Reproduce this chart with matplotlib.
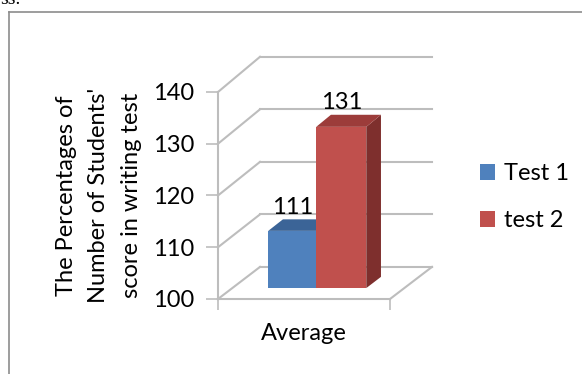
import matplotlib
matplotlib.use("Agg")
import matplotlib.pyplot as plt
from matplotlib.patches import Polygon, Patch
from matplotlib.lines import Line2D

# data
series = ["Test 1", "test 2"]
values = [111, 131]
category = "Average"
yticks = [100, 110, 120, 130, 140]
ylabel = "The Percentages of\nNumber of Students'\nscore in writing test"

FRONT = ["#4F81BD", "#C0504D"]
TOP   = ["#3B6497", "#9C3C3A"]
SIDE  = ["#2F507A", "#7E2F2D"]
GRID  = "#BDBDBD"

plt.rcParams["font.family"] = ["Lato", "DejaVu Sans"]
FS = 17

W, H = 582, 374
fig = plt.figure(figsize=(W / 100, H / 100), dpi=100)

# front plane of the 3-D box: x 0..1, values 100..140
ax = fig.add_axes([218 / W, (H - 299) / H, 172 / W, 207 / H])
ax.set_xlim(0, 1)
ax.set_ylim(100, 140)

# depth offsets (one unit of depth)
DX = 42 / 172
def dv(v):
    return 6.2 + (v - 100) * 0.015

def proj(x, v, d):
    return (x + d * DX, v + d * dv(v))

# walls: left wall diagonals + back wall gridlines
for v in yticks:
    p0, p1 = proj(0, v, 0), proj(0, v, 1)
    ax.plot([p0[0], p1[0]], [p0[1], p1[1]], color=GRID, lw=1.5, clip_on=False)
    b0, b1 = proj(0, v, 1), proj(1, v, 1)
    ax.plot([b0[0], b1[0]], [b0[1], b1[1]], color=GRID, lw=1.5, clip_on=False)
# floor right edge
f0, f1 = proj(1, 100, 0), proj(1, 100, 1)
ax.plot([f0[0], f1[0]], [f0[1], f1[1]], color=GRID, lw=1.5, clip_on=False)

# bars
x_left = [0.209, 0.488]
x_right = [0.488, 0.779]
d1, d2 = 0.34, 0.69
for i, val in enumerate(values):
    xa, xb = x_left[i], x_right[i]
    front = [proj(xa, 100, d1), proj(xb, 100, d1), proj(xb, val, d1), proj(xa, val, d1)]
    side = [proj(xb, 100, d1), proj(xb, 100, d2), proj(xb, val, d2), proj(xb, val, d1)]
    top = [proj(xa, val, d1), proj(xb, val, d1), proj(xb, val, d2), proj(xa, val, d2)]
    ax.add_patch(Polygon(side, closed=True, fc=SIDE[i], ec="none", clip_on=False, zorder=3))
    ax.add_patch(Polygon(top, closed=True, fc=TOP[i], ec="none", clip_on=False, zorder=3))
    ax.add_patch(Polygon(front, closed=True, fc=FRONT[i], ec="none", clip_on=False, zorder=4))
    cx = proj((xa + xb) / 2, val, d1)[0]
    ty = proj(xa, val, d2)[1]
    ax.annotate(str(val), (cx, ty), xytext=(0, 4), textcoords="offset points",
                ha="center", va="baseline", fontsize=FS, color="black",
                annotation_clip=False, zorder=5)

# axes styling
for s in ["top", "right"]:
    ax.spines[s].set_visible(False)
for s in ["left", "bottom"]:
    ax.spines[s].set_color(GRID)
    ax.spines[s].set_linewidth(1.5)
ax.set_facecolor("none")
ax.set_yticks(yticks)
ax.set_yticklabels([str(t) for t in yticks], fontsize=FS)
ax.tick_params(axis="y", direction="out", length=9, width=1.2, color=GRID, pad=8)
ax.set_xticks([0, 1])
ax.set_xticklabels(["", ""])
ax.tick_params(axis="x", which="major", direction="out", length=8, width=1.2, color=GRID)
ax.set_xticks([0.5], [category], minor=True)
ax.tick_params(axis="x", which="minor", length=0, labelsize=FS, pad=17)
ax.set_ylabel(ylabel, fontsize=FS, linespacing=1.68, labelpad=8)

# legend
handles = [Patch(facecolor=c, edgecolor="none", label=s) for c, s in zip(FRONT, series)]
fig.legend(handles=handles, loc="center left", bbox_to_anchor=(480 / W, (H - 197) / H),
           frameon=False, borderpad=0, borderaxespad=0, fontsize=FS,
           handlelength=0.65, handleheight=0.65, handletextpad=0.35, labelspacing=1.1)

# chart frame (extends beyond the crop on right/bottom)
fig.add_artist(Line2D([9 / W, 9 / W], [0, (H - 12) / H], color="#8C8C8C", lw=1.2))
fig.add_artist(Line2D([9 / W, 1], [(H - 12) / H, (H - 12) / H], color="#8C8C8C", lw=1.2))
fig.text(0, (H - 4) / H, "ss.", family="Liberation Serif", fontsize=14, va="baseline")

fig.savefig("out.png", dpi=100)
